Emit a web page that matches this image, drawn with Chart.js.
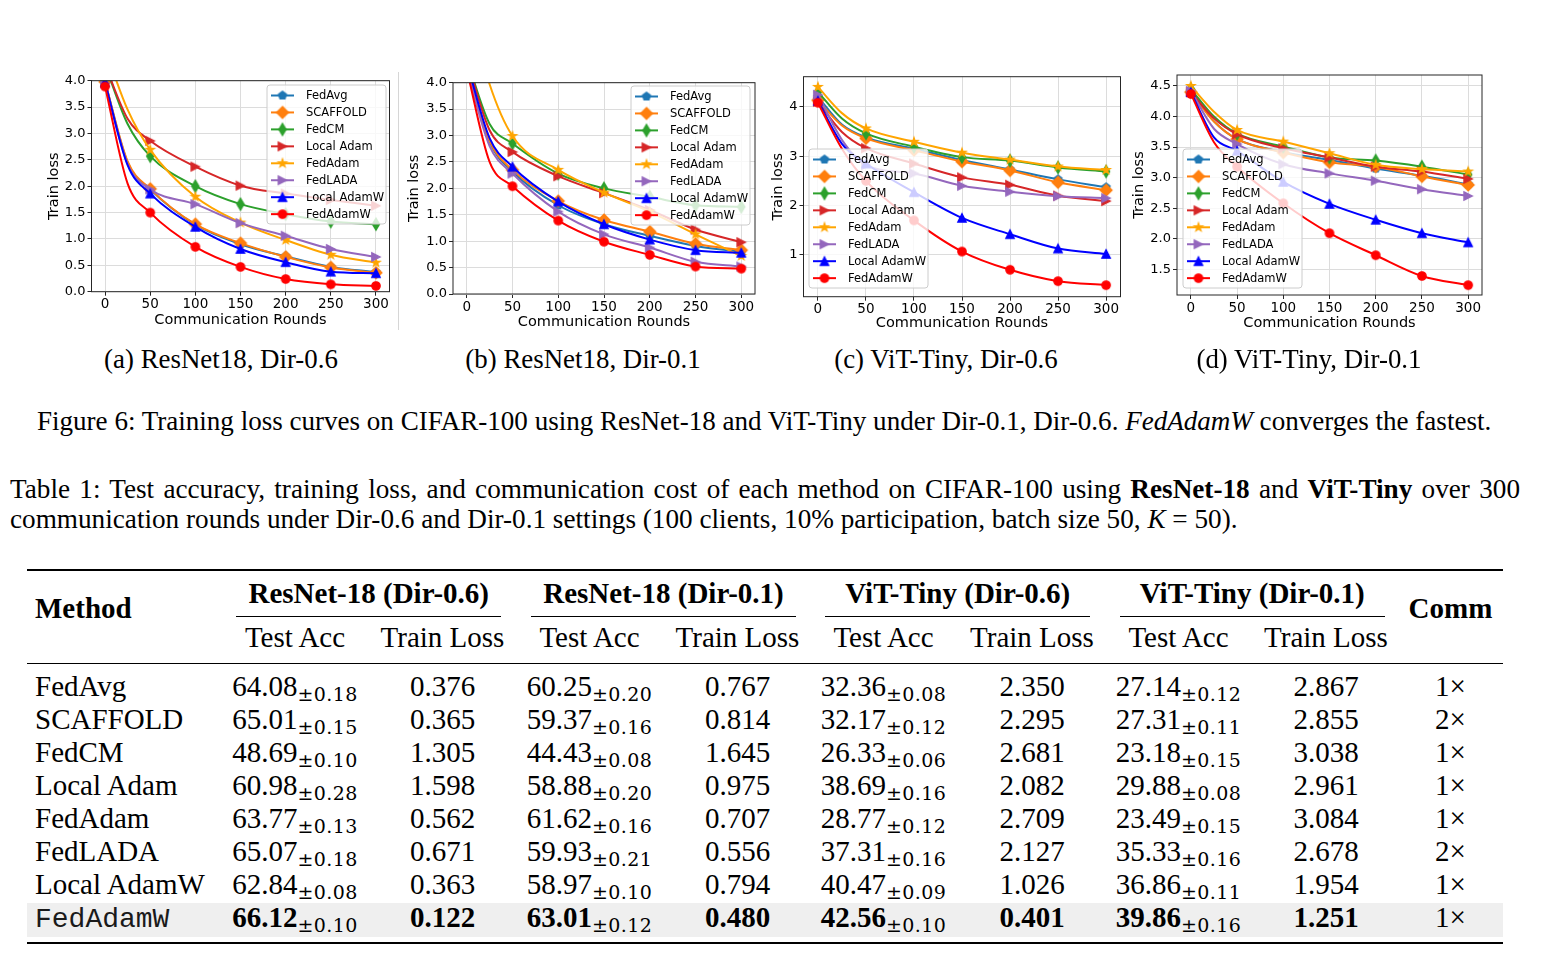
<!DOCTYPE html>
<html>
<head>
<meta charset="utf-8">
<title>Training loss curves</title>
<script src="https://cdn.jsdelivr.net/npm/chart.js@4.4.1/dist/chart.umd.min.js"></script>
<style>
  html, body { margin: 0; padding: 0; background: #fff; }
  body { width: 1556px; height: 963px; position: relative; overflow: hidden; color: #000;
         font-family: "Liberation Serif", "Times New Roman", serif; }
  .t { position: absolute; white-space: nowrap; line-height: 1; }
  .sub { font-family: "DejaVu Serif", serif; font-size: 19px; position: relative; top: 5px;
         font-weight: normal; letter-spacing: 0.4px; }
  .mono { font-family: "Liberation Mono", monospace; color: #1a1a1a; }
  .rule { position: absolute; background: #000; }
  canvas { position: absolute; }
</style>
</head>
<body>
<script>
// ---- values ----
const methods = ['FedAvg', 'SCAFFOLD', 'FedCM', 'Local Adam', 'FedAdam', 'FedLADA', 'Local AdamW', 'FedAdamW'];
const rounds = [0, 25, 50, 100, 150, 200, 250, 300];
const xTicks = [0, 50, 100, 150, 200, 250, 300];
const yTicksResNet = [0, 0.5, 1, 1.5, 2, 2.5, 3, 3.5, 4];
const yTicksVit06 = [1, 2, 3, 4];
const yTicksVit01 = [1.5, 2, 2.5, 3, 3.5, 4, 4.5];

// train loss: one row per method, one value per round
const lossResNet06 = [
  [3.98, 2.45, 1.94, 1.27, 0.90, 0.67, 0.47, 0.37],
  [3.98, 2.47, 1.95, 1.28, 0.92, 0.66, 0.46, 0.36],
  [4.30, 3.18, 2.57, 2.00, 1.66, 1.47, 1.33, 1.28],
  [4.30, 3.28, 2.86, 2.37, 2.01, 1.86, 1.74, 1.63],
  [4.60, 3.45, 2.69, 1.80, 1.31, 0.98, 0.70, 0.55],
  [3.95, 2.42, 1.94, 1.66, 1.30, 1.06, 0.81, 0.66],
  [3.97, 2.40, 1.86, 1.23, 0.81, 0.56, 0.38, 0.35],
  [3.89, 2.05, 1.50, 0.85, 0.47, 0.24, 0.14, 0.11]
];
const lossResNet01 = [
  [4.35, 2.88, 2.32, 1.68, 1.32, 1.10, 0.91, 0.80],
  [4.35, 2.90, 2.35, 1.76, 1.40, 1.18, 0.95, 0.83],
  [4.45, 3.22, 2.85, 2.28, 2.00, 1.84, 1.68, 1.65],
  [4.45, 3.10, 2.69, 2.23, 1.91, 1.59, 1.22, 0.98],
  [5.60, 3.97, 2.99, 2.35, 1.92, 1.56, 1.13, 0.72],
  [4.25, 2.80, 2.28, 1.56, 1.13, 0.88, 0.61, 0.52],
  [4.38, 2.95, 2.41, 1.75, 1.32, 1.03, 0.83, 0.78],
  [4.25, 2.50, 2.04, 1.39, 0.99, 0.74, 0.52, 0.48]
];
const lossVit06 = [
  [4.20, 3.64, 3.38, 3.15, 2.92, 2.73, 2.53, 2.37],
  [4.13, 3.62, 3.36, 3.12, 2.89, 2.71, 2.47, 2.31],
  [4.30, 3.76, 3.46, 3.19, 2.98, 2.91, 2.77, 2.69],
  [4.10, 3.49, 3.16, 2.85, 2.57, 2.42, 2.20, 2.09],
  [4.40, 3.87, 3.56, 3.29, 3.07, 2.93, 2.79, 2.72],
  [4.24, 3.33, 2.82, 2.65, 2.40, 2.28, 2.19, 2.15],
  [4.12, 3.25, 2.85, 2.27, 1.75, 1.42, 1.13, 1.02],
  [4.08, 3.15, 2.50, 1.70, 1.07, 0.70, 0.47, 0.39]
];
const lossVit01 = [
  [4.42, 3.92, 3.63, 3.42, 3.29, 3.15, 3.03, 2.89],
  [4.40, 3.92, 3.63, 3.41, 3.25, 3.18, 3.02, 2.88],
  [4.45, 4.00, 3.72, 3.51, 3.33, 3.28, 3.18, 3.05],
  [4.40, 3.97, 3.71, 3.48, 3.33, 3.18, 3.10, 2.98],
  [4.50, 4.08, 3.78, 3.59, 3.40, 3.21, 3.14, 3.10],
  [4.42, 3.80, 3.55, 3.22, 3.07, 2.95, 2.81, 2.70],
  [4.40, 3.66, 3.44, 2.93, 2.57, 2.31, 2.09, 1.94],
  [4.37, 3.58, 3.18, 2.58, 2.09, 1.73, 1.39, 1.24]
];

// table 1
const tableGroups = ['ResNet-18 (Dir-0.6)', 'ResNet-18 (Dir-0.1)', 'ViT-Tiny (Dir-0.6)', 'ViT-Tiny (Dir-0.1)'];
const accMean = [
  [64.08, 60.25, 32.36, 27.14],
  [65.01, 59.37, 32.17, 27.31],
  [48.69, 44.43, 26.33, 23.18],
  [60.98, 58.88, 38.69, 29.88],
  [63.77, 61.62, 28.77, 23.49],
  [65.07, 59.93, 37.31, 35.33],
  [62.84, 58.97, 40.47, 36.86],
  [66.12, 63.01, 42.56, 39.86]
];
const accStd = [
  [0.18, 0.20, 0.08, 0.12],
  [0.15, 0.16, 0.12, 0.11],
  [0.10, 0.08, 0.06, 0.15],
  [0.28, 0.20, 0.16, 0.08],
  [0.13, 0.16, 0.12, 0.15],
  [0.18, 0.21, 0.16, 0.16],
  [0.08, 0.10, 0.09, 0.11],
  [0.10, 0.12, 0.10, 0.16]
];
const trainLoss = [
  [0.376, 0.767, 2.350, 2.867],
  [0.365, 0.814, 2.295, 2.855],
  [1.305, 1.645, 2.681, 3.038],
  [1.598, 0.975, 2.082, 2.961],
  [0.562, 0.707, 2.709, 3.084],
  [0.671, 0.556, 2.127, 2.678],
  [0.363, 0.794, 1.026, 1.954],
  [0.122, 0.480, 0.401, 1.251]
];
const commCost = [1, 2, 1, 1, 1, 2, 1, 1];

const subCaptions = ['(a) ResNet18, Dir-0.6', '(b) ResNet18, Dir-0.1', '(c) ViT-Tiny, Dir-0.6', '(d) ViT-Tiny, Dir-0.1'];

// ---- styles ----
const seriesColors = ['#1f77b4', '#ff7f0e', '#2ca02c', '#d62728', '#ffa500', '#9467bd', '#0000ff', '#ff0000'];
const seriesMarkers = ['p', 'D', 'd', '>', '*', '>', '^', 'o'];

Chart.defaults.font.family = '"DejaVu Sans", sans-serif';
Chart.defaults.color = '#000';

// matplotlib-like marker glyphs, used as point style
function markerImage(shape, color) {
  const c = document.createElement('canvas');
  c.width = 16; c.height = 16;
  const g = c.getContext('2d');
  g.translate(8, 8);
  g.fillStyle = color;
  g.strokeStyle = color;
  g.lineWidth = 1.3;
  g.beginPath();
  const s = 4.2;
  if (shape === 'o') {
    g.arc(0, 0, s, 0, 2 * Math.PI);
  } else if (shape === '^') {
    g.moveTo(0, -s); g.lineTo(s, s); g.lineTo(-s, s);
  } else if (shape === '>') {
    g.moveTo(s, 0); g.lineTo(-s, -s); g.lineTo(-s, s);
  } else if (shape === 'D' || shape === 'd') {
    const h = s * Math.SQRT2;
    const w = shape === 'D' ? h : h * 0.6;
    g.moveTo(0, -h); g.lineTo(w, 0); g.lineTo(0, h); g.lineTo(-w, 0);
  } else if (shape === 'p') {
    for (let k = 0; k < 5; k++) {
      const a = -Math.PI / 2 + k * 2 * Math.PI / 5;
      g.lineTo(s * Math.cos(a), s * Math.sin(a));
    }
  } else if (shape === '*') {
    for (let k = 0; k < 10; k++) {
      const a = -Math.PI / 2 + k * Math.PI / 5;
      const r = k % 2 ? s * 0.382 : s;
      g.lineTo(r * Math.cos(a), r * Math.sin(a));
    }
  }
  g.closePath();
  g.fill();
  g.stroke();
  return c;
}
const markerImgs = seriesMarkers.map((m, i) => markerImage(m, seriesColors[i]));

// axes frame + legend box drawn on top of the lines
const frameKey = {
  id: 'frameKey',
  afterDatasetsDraw(chart, args, o) {
    const { ctx, chartArea: a } = chart;
    ctx.save();
    ctx.strokeStyle = '#262626';
    ctx.lineWidth = 1;
    ctx.strokeRect(a.left, a.top, a.right - a.left, a.bottom - a.top);

    ctx.fillStyle = 'rgba(255,255,255,0.8)';
    ctx.strokeStyle = '#cccccc';
    ctx.beginPath();
    ctx.roundRect(o.x, o.y, 119, 139, 3);
    ctx.fill();
    ctx.stroke();
    ctx.font = '11.5px "DejaVu Sans"';
    ctx.textBaseline = 'middle';
    ctx.textAlign = 'left';
    chart.data.datasets.forEach((ds, i) => {
      const y = o.y + 10.5 + i * 16.95;
      ctx.strokeStyle = ds.borderColor;
      ctx.lineWidth = 2;
      ctx.beginPath();
      ctx.moveTo(o.x + 4, y);
      ctx.lineTo(o.x + 27, y);
      ctx.stroke();
      const img = ds.pointStyle;
      ctx.drawImage(img, o.x + 15.5 - img.width / 2, y - img.height / 2);
      ctx.fillStyle = '#000';
      ctx.fillText(ds.label, o.x + 39, y + 0.5);
    });
    ctx.restore();
  }
};

const panels = [
  { loss: lossResNet06, yTicks: yTicksResNet, ymin: 0, ymax: 4, dec: 1,
    area: { l: 91.5, t: 80.7, r: 389.5, b: 291.7 }, yTitleX: 54, xTitleY: 320, key: [267, 85] },
  { loss: lossResNet01, yTicks: yTicksResNet, ymin: 0, ymax: 4, dec: 1,
    area: { l: 453, t: 82.7, r: 755, b: 294 }, yTitleX: 414, xTitleY: 322, key: [631, 86] },
  { loss: lossVit06, yTicks: yTicksVit06, ymin: 0.156, ymax: 4.607, dec: 0,
    area: { l: 803.5, t: 76.7, r: 1120.5, b: 296.7 }, yTitleX: 778, xTitleY: 323.5, key: [809, 149] },
  { loss: lossVit01, yTicks: yTicksVit01, ymin: 1.079, ymax: 4.68, dec: 1,
    area: { l: 1177, t: 75, r: 1482, b: 295 }, yTitleX: 1139, xTitleY: 323.5, key: [1183, 149] }
];

const titleSize = 14.5;
const lh = titleSize * 1.2;

panels.forEach(p => {
  const left = Math.floor(p.yTitleX - lh / 2);
  const padLeft = p.yTitleX - lh / 2 - left;
  const yAxisW = p.area.l - left - padLeft;
  const top = Math.floor(p.area.t - 12);
  const padTop = p.area.t - top;
  const width = Math.ceil(p.area.r + 12 - left);
  const padRight = left + width - p.area.r;
  const xAxisH = p.xTitleY + lh / 2 - p.area.b;
  const bottom = Math.ceil(p.xTitleY + lh / 2 + 4);
  const padBottom = bottom - (p.xTitleY + lh / 2);
  const height = bottom - top;

  const cv = document.createElement('canvas');
  cv.width = width; cv.height = height;
  cv.style.left = left + 'px'; cv.style.top = top + 'px';
  cv.style.width = width + 'px'; cv.style.height = height + 'px';
  document.body.appendChild(cv);

  new Chart(cv, {
    type: 'line',
    data: {
      datasets: methods.map((m, i) => ({
        label: m,
        data: rounds.map((r, k) => ({ x: r, y: p.loss[i][k] })),
        borderColor: seriesColors[i],
        backgroundColor: seriesColors[i],
        borderWidth: 2,
        pointStyle: markerImgs[i],
        pointRadius: rounds.map(r => (r % 50 === 0 ? 5 : 0)),
        cubicInterpolationMode: 'monotone',
        order: methods.length - i,
        fill: false
      }))
    },
    options: {
      responsive: false,
      animation: false,
      events: [],
      layout: { padding: { left: padLeft, top: padTop, right: padRight, bottom: padBottom } },
      scales: {
        x: {
          type: 'linear', min: -15, max: 315,
          afterBuildTicks: s => { s.ticks = xTicks.map(v => ({ value: v })); },
          afterFit: s => { s.height = xAxisH; },
          ticks: { font: { size: 13.5 }, color: '#000', padding: 1, maxRotation: 0, autoSkip: false,
                   callback: v => String(v) },
          grid: { color: '#dcdcdc', lineWidth: 1, tickLength: 4, tickColor: '#262626' },
          border: { display: false },
          title: { display: true, text: 'Communication Rounds', font: { size: titleSize }, color: '#000', padding: 0 }
        },
        y: {
          type: 'linear', min: p.ymin, max: p.ymax,
          afterBuildTicks: s => { s.ticks = p.yTicks.map(v => ({ value: v })); },
          afterFit: s => { s.width = yAxisW; },
          ticks: { font: { size: 13 }, color: '#000', padding: 2, autoSkip: false,
                   callback: v => v.toFixed(p.dec) },
          grid: { color: '#dcdcdc', lineWidth: 1, tickLength: 4, tickColor: '#262626' },
          border: { display: false },
          title: { display: true, text: 'Train loss', font: { size: titleSize }, color: '#000', padding: 0 }
        }
      },
      plugins: {
        legend: { display: false },
        tooltip: { enabled: false },
        frameKey: { x: p.key[0] - left, y: p.key[1] - top }
      }
    },
    plugins: [frameKey]
  });
});

// faint border line right of panel (a)
const edge = document.createElement('div');
edge.style.cssText = 'position:absolute;left:398px;top:72px;width:1px;height:258px;background:#d6d6d6';
document.body.appendChild(edge);

// ---- text helpers ----
function put(html, x, base, size, opt = {}) {
  const d = document.createElement('div');
  d.className = 't' + (opt.cls ? ' ' + opt.cls : '');
  d.innerHTML = html;
  document.body.appendChild(d);
  d._base = base;
  d._mono = !!opt.mono;
  setSize(d, size);
  d.style.left = x + 'px';
  if (opt.center) d.style.transform = 'translateX(-50%)';
  if (opt.bold) d.style.fontWeight = 'bold';
  return d;
}
function setSize(d, size) {
  d.style.fontSize = size + 'px';
  const asc = d._mono ? 0.7665 : 0.8375;
  d.style.top = (d._base - asc * size) + 'px';
}
function fitWidth(d, size, target) {
  const w = d.getBoundingClientRect().width;
  const s = size * target / w;
  setSize(d, s);
  return s;
}
function justify(d, target) {
  const w = d.getBoundingClientRect().width;
  const n = (d.textContent.match(/ /g) || []).length;
  d.style.wordSpacing = ((target - w) / n) + 'px';
}
function rule(x1, x2, y, h) {
  const r = document.createElement('div');
  r.className = 'rule';
  r.style.left = x1 + 'px';
  r.style.width = (x2 - x1) + 'px';
  r.style.top = y + 'px';
  r.style.height = h + 'px';
  document.body.appendChild(r);
  return r;
}

// sub captions
const subCenters = [221, 583, 946, 1309];
let subSize = 26;
subCaptions.forEach((c, i) => {
  const d = put(c, subCenters[i], 369, 26, { center: true });
  if (i === 0) subSize = fitWidth(d, 26, 234);
  else setSize(d, subSize);
});

// figure caption
const fig = put('Figure 6: Training loss curves on CIFAR-100 using ResNet-18 and ViT-Tiny under Dir-0.1, Dir-0.6. <i>FedAdamW</i> converges the fastest.',
  37, 431, 26);
fitWidth(fig, 26, 1455);

// table caption
const cap2 = put('communication rounds under Dir-0.6 and Dir-0.1 settings (100 clients, 10% participation, batch size 50, <i>K</i> = 50).',
  10, 529, 26);
const capSize = fitWidth(cap2, 26, 1228);
const cap1 = put('Table 1: Test accuracy, training loss, and communication cost of each method on CIFAR-100 using <b>ResNet-18</b> and <b>ViT-Tiny</b> over 300',
  10, 499, capSize);
justify(cap1, 1510);

// ---- table ----
const colCenters = [295, 442.5, 589.5, 737.5, 883.5, 1032, 1178.5, 1326, 1450.5];
const band = document.createElement('div');
band.style.cssText = 'position:absolute;left:27px;width:1476px;top:903px;height:33.5px;background:#efefef';
document.body.appendChild(band);

rule(27, 1503, 568.5, 2);
rule(27, 1503, 663.2, 1.3);
rule(27, 1503, 941.5, 2.2);

const fs = 29;
put('Method', 35, 618.5, fs, { bold: true });
put('Comm', colCenters[8], 618.5, fs, { bold: true, center: true });
tableGroups.forEach((g, k) => {
  const c = (colCenters[2 * k] + colCenters[2 * k + 1]) / 2;
  put(g, c, 603.3, fs, { bold: true, center: true });
  rule(c - 132.5, c + 132.5, 616.2, 1);
  put('Test Acc', colCenters[2 * k], 647.3, fs, { center: true });
  put('Train Loss', colCenters[2 * k + 1], 647.3, fs, { center: true });
});

methods.forEach((m, i) => {
  const base = 696 + 33 * i;
  const best = i === methods.length - 1;
  put(m, 35, base, best ? 28 : fs, best ? { cls: 'mono', mono: true } : {});
  for (let k = 0; k < 4; k++) {
    const mean = accMean[i][k].toFixed(2);
    const acc = (best ? '<b>' + mean + '</b>' : mean) + '<span class="sub">±' + accStd[i][k].toFixed(2) + '</span>';
    put(acc, colCenters[2 * k], base, fs, { center: true });
    const tl = trainLoss[i][k].toFixed(3);
    put(best ? '<b>' + tl + '</b>' : tl, colCenters[2 * k + 1], base, fs, { center: true });
  }
  put(commCost[i] + '×', colCenters[8], base, fs, { center: true });
});
</script>
</body>
</html>
